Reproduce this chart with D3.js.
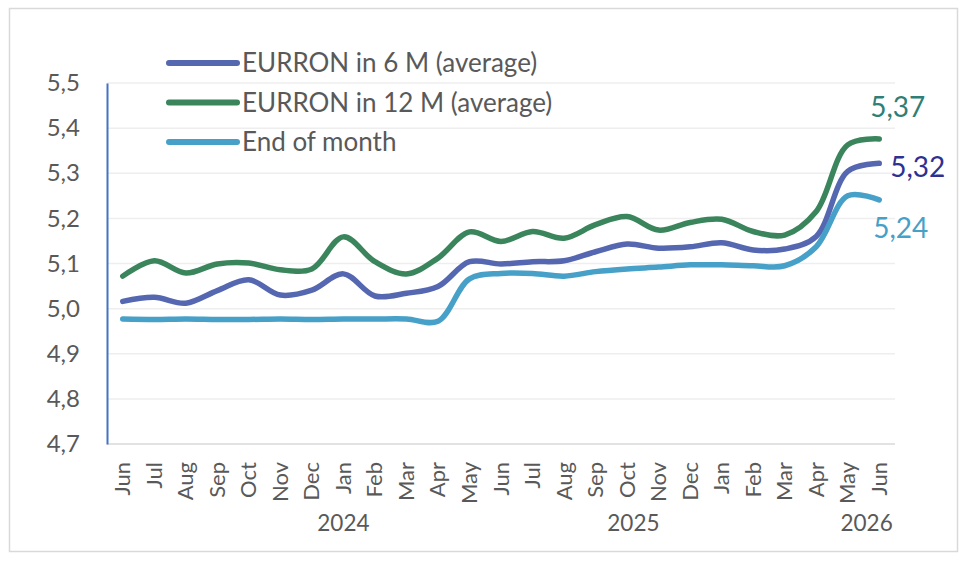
<!DOCTYPE html>
<html>
<head>
<meta charset="utf-8">
<script src="https://cdn.jsdelivr.net/npm/d3@7"></script>
<style>
  body { margin: 0; background: #fff; }
  text { font-family: Lato, "Open Sans", sans-serif; fill: #595959; }
</style>
</head>
<body>
<div id="chart-area"></div>
<script>
const WIDTH = 968;
const HEIGHT = 564;

const months = ['Jun', 'Jul', 'Aug', 'Sep', 'Oct', 'Nov', 'Dec', 'Jan', 'Feb', 'Mar', 'Apr', 'May',
  'Jun', 'Jul', 'Aug', 'Sep', 'Oct', 'Nov', 'Dec', 'Jan', 'Feb', 'Mar', 'Apr', 'May', 'Jun'];
const categories = months.map((m, i) => `${ m }-${ i }`);

const avg6m = [5.016, 5.025, 5.012, 5.040, 5.064, 5.030, 5.041, 5.077, 5.028, 5.034, 5.049, 5.104,
  5.099, 5.104, 5.106, 5.126, 5.143, 5.134, 5.137, 5.146, 5.130, 5.132, 5.160, 5.304, 5.322];
const avg12m = [5.072, 5.106, 5.079, 5.099, 5.101, 5.086, 5.088, 5.159, 5.104, 5.077, 5.112, 5.170,
  5.149, 5.171, 5.156, 5.186, 5.204, 5.174, 5.191, 5.198, 5.171, 5.163, 5.215, 5.363, 5.376];
const endOfMonth = [4.977, 4.976, 4.977, 4.976, 4.976, 4.977, 4.976, 4.977, 4.977, 4.977, 4.972, 5.066,
  5.078, 5.078, 5.072, 5.082, 5.088, 5.092, 5.097, 5.097, 5.095, 5.095, 5.137, 5.250, 5.241];

const yTicks = [4.7, 4.8, 4.9, 5.0, 5.1, 5.2, 5.3, 5.4, 5.5];
// year labels with the category position they sit under
const yearLabels = [
  {year: '2024', at: 7.0},
  {year: '2025', at: 16.2},
  {year: '2026', at: 23.6},
];

const series = [
  {name: 'EURRON in 6 M (average)', values: avg6m, color: '#5567b0', label: '5,32', labelColor: '#2e3192', dx: 11, dy: 14},
  {name: 'EURRON in 12 M (average)', values: avg12m, color: '#3a855c', label: '5,37', labelColor: '#2f7f76', dx: -9, dy: -22},
  {name: 'End of month', values: endOfMonth, color: '#46a0c8', label: '5,24', labelColor: '#46a0c8', dx: -6, dy: 38},
];

const svg = d3.select('#chart-area').append('svg')
  .attr('width', WIDTH)
  .attr('height', HEIGHT);

svg.append('rect')
  .attr('x', 9.5)
  .attr('y', 8.5)
  .attr('width', 948)
  .attr('height', 543)
  .attr('fill', '#fff')
  .attr('stroke', '#d9d9d9')
  .attr('stroke-width', 1.5);

const x = d3.scaleBand()
  .domain(categories)
  .range([107, 895]);
const y = d3.scaleLinear()
  .domain([4.7, 5.5])
  .range([444, 83]);
const cx = i => x(categories[i]) + x.bandwidth() / 2;

// gridlines
svg.append('g')
  .selectAll('line')
  .data(yTicks.slice(1))
  .enter()
  .append('line')
  .attr('x1', 107)
  .attr('x2', 895)
  .attr('y1', d => y(d))
  .attr('y2', d => y(d))
  .attr('stroke', '#eeeeee')
  .attr('stroke-width', 1.5);

// x axis line
svg.append('line')
  .attr('x1', 107).attr('x2', 895)
  .attr('y1', y(4.7)).attr('y2', y(4.7))
  .attr('stroke', '#d9d9d9')
  .attr('stroke-width', 1.5);

// y axis
const axisLeftCall = d3.axisLeft(y)
  .tickValues(yTicks)
  .tickSize(0)
  .tickPadding(27)
  .tickFormat(d => d3.format('.1f')(d).replace('.', ','));
const yAxis = svg.append('g')
  .attr('transform', 'translate(107, 0)')
  .call(axisLeftCall);
yAxis.select('.domain')
  .attr('stroke', '#4472c4')
  .attr('stroke-width', 2);
yAxis.selectAll('text')
  .attr('font-size', 24)
  .attr('font-family', 'Lato')
  .attr('fill', '#595959');

// month labels
svg.append('g')
  .selectAll('text')
  .data(months)
  .enter()
  .append('text')
  .attr('transform', (d, i) => `translate(${ cx(i) + 7.5 }, 462) rotate(-90)`)
  .attr('text-anchor', 'end')
  .attr('font-size', 22)
  .text(d => d);

svg.append('g')
  .selectAll('text')
  .data(yearLabels)
  .enter()
  .append('text')
  .attr('x', d => cx(0) + d.at * x.step())
  .attr('y', 531)
  .attr('text-anchor', 'middle')
  .attr('font-size', 22.5)
  .text(d => d.year);

// lines
const line = d3.line()
  .x((d, i) => cx(i))
  .y(d => y(d))
  .curve(d3.curveCatmullRom.alpha(0.5));

svg.append('g')
  .selectAll('path')
  .data(series)
  .enter()
  .append('path')
  .attr('d', d => line(d.values))
  .attr('fill', 'none')
  .attr('stroke', d => d.color)
  .attr('stroke-width', 5.5)
  .attr('stroke-linecap', 'round')
  .attr('stroke-linejoin', 'round');

// end labels
svg.append('g')
  .selectAll('text')
  .data(series)
  .enter()
  .append('text')
  .attr('x', d => cx(d.values.length - 1) + d.dx)
  .attr('y', d => y(d.values[d.values.length - 1]) + d.dy)
  .attr('font-size', 28)
  .style('fill', d => d.labelColor)
  .text(d => d.label);

// legend
const legend = svg.append('g')
  .selectAll('g')
  .data(series)
  .enter()
  .append('g')
  .attr('transform', (d, i) => `translate(169, ${ 63 + i * 39.5 })`);
legend.append('line')
  .attr('x1', 0).attr('x2', 68)
  .attr('stroke', d => d.color)
  .attr('stroke-width', 6)
  .attr('stroke-linecap', 'round');
legend.append('text')
  .attr('x', 73)
  .attr('dy', '0.36em')
  .attr('font-size', 26)
  .text(d => d.name);
</script>
</body>
</html>
